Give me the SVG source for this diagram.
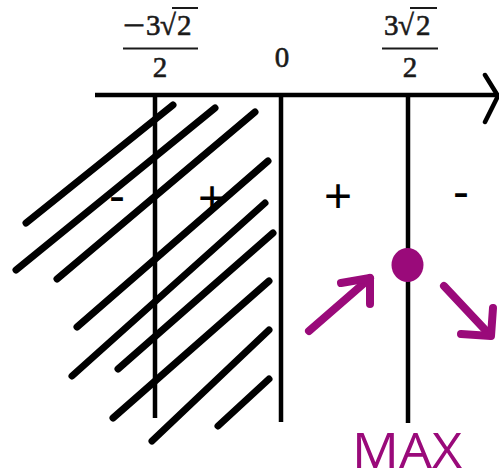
<svg xmlns="http://www.w3.org/2000/svg" width="499" height="474" viewBox="0 0 499 474">
<style>
.ax{stroke:#000;stroke-width:4.5;fill:none}
.ht{stroke:#000;stroke-width:7;stroke-linecap:round;fill:none}
.pa{stroke:#9a0a7a;stroke-width:8;stroke-linecap:round;stroke-linejoin:round;fill:none}
.m{font-family:"Liberation Serif","DejaVu Serif",serif;fill:#1a1a1a;stroke:#1a1a1a;stroke-width:0.6;font-size:29px}
.s{font-family:"Liberation Sans",Arial,sans-serif;font-size:48px;fill:#000;text-anchor:middle}
</style>
<rect width="499" height="474" fill="#fff"/>
<g id="labels-top">
<g id="frac-left">
<text class="m" x="123" y="35" textLength="22" lengthAdjust="spacingAndGlyphs">−</text>
<text class="m" x="146" y="35">3</text>
<text class="m" x="160" y="35">√</text>
<line x1="172" y1="8" x2="198" y2="8" stroke="#1a1a1a" stroke-width="2"/>
<text class="m" x="177" y="35">2</text>
<line x1="123" y1="48.5" x2="198" y2="48.5" stroke="#1a1a1a" stroke-width="2"/>
<text class="m" x="160" y="77" text-anchor="middle">2</text>
</g>
<g id="zero"><text class="m" x="282" y="67" text-anchor="middle">0</text></g>
<g id="frac-right">
<text class="m" x="384" y="35">3</text>
<text class="m" x="398" y="35">√</text>
<line x1="410" y1="8" x2="437" y2="8" stroke="#1a1a1a" stroke-width="2"/>
<text class="m" x="416" y="35">2</text>
<line x1="382" y1="48.5" x2="438" y2="48.5" stroke="#1a1a1a" stroke-width="2"/>
<text class="m" x="410" y="77" text-anchor="middle">2</text>
</g>
</g>
<g id="signs">
<text class="s" x="117" y="212">-</text>
<text class="s" x="212" y="214">+</text>
<text class="s" x="338" y="212">+</text>
<text class="s" x="461" y="208">-</text>
</g>
<g id="axes">
<line class="ax" x1="95" y1="95" x2="497" y2="95" stroke-width="5"/>
<polyline class="ax" points="485,75 498,96 485,122" stroke-linecap="round"/>
<line class="ax" x1="155" y1="95" x2="155" y2="418"/>
<line class="ax" x1="281" y1="95" x2="281" y2="422"/>
<line class="ax" x1="408" y1="95" x2="408" y2="423"/>
</g>
<g id="hatch">
<line class="ht" x1="26" y1="223" x2="173" y2="105"/>
<line class="ht" x1="16" y1="270" x2="215" y2="108"/>
<line class="ht" x1="57" y1="279" x2="255" y2="112"/>
<line class="ht" x1="77" y1="327" x2="268" y2="161"/>
<line class="ht" x1="72" y1="376" x2="265" y2="203"/>
<line class="ht" x1="118" y1="369" x2="273" y2="233"/>
<line class="ht" x1="113" y1="418" x2="269" y2="281"/>
<line class="ht" x1="152" y1="441" x2="269" y2="330"/>
<line class="ht" x1="218" y1="426" x2="269" y2="379"/>
</g>
<g id="max-point">
<ellipse cx="407.5" cy="265" rx="16" ry="17" fill="#9a0a7a"/>
<g id="connectors">
<polyline class="pa" points="309,331 370,278"/>
<polyline class="pa" points="341,283 370,278 370,304"/>
<polyline class="pa" points="444,286 490,335"/>
<polyline class="pa" points="461,334 491,336 493,308"/>
</g>
<text x="407" y="468" font-family="'Open Sans','Noto Sans',sans-serif" font-size="50" fill="#9a0a7a" text-anchor="middle" textLength="110" lengthAdjust="spacingAndGlyphs">MAX</text>
</g>
</svg>
